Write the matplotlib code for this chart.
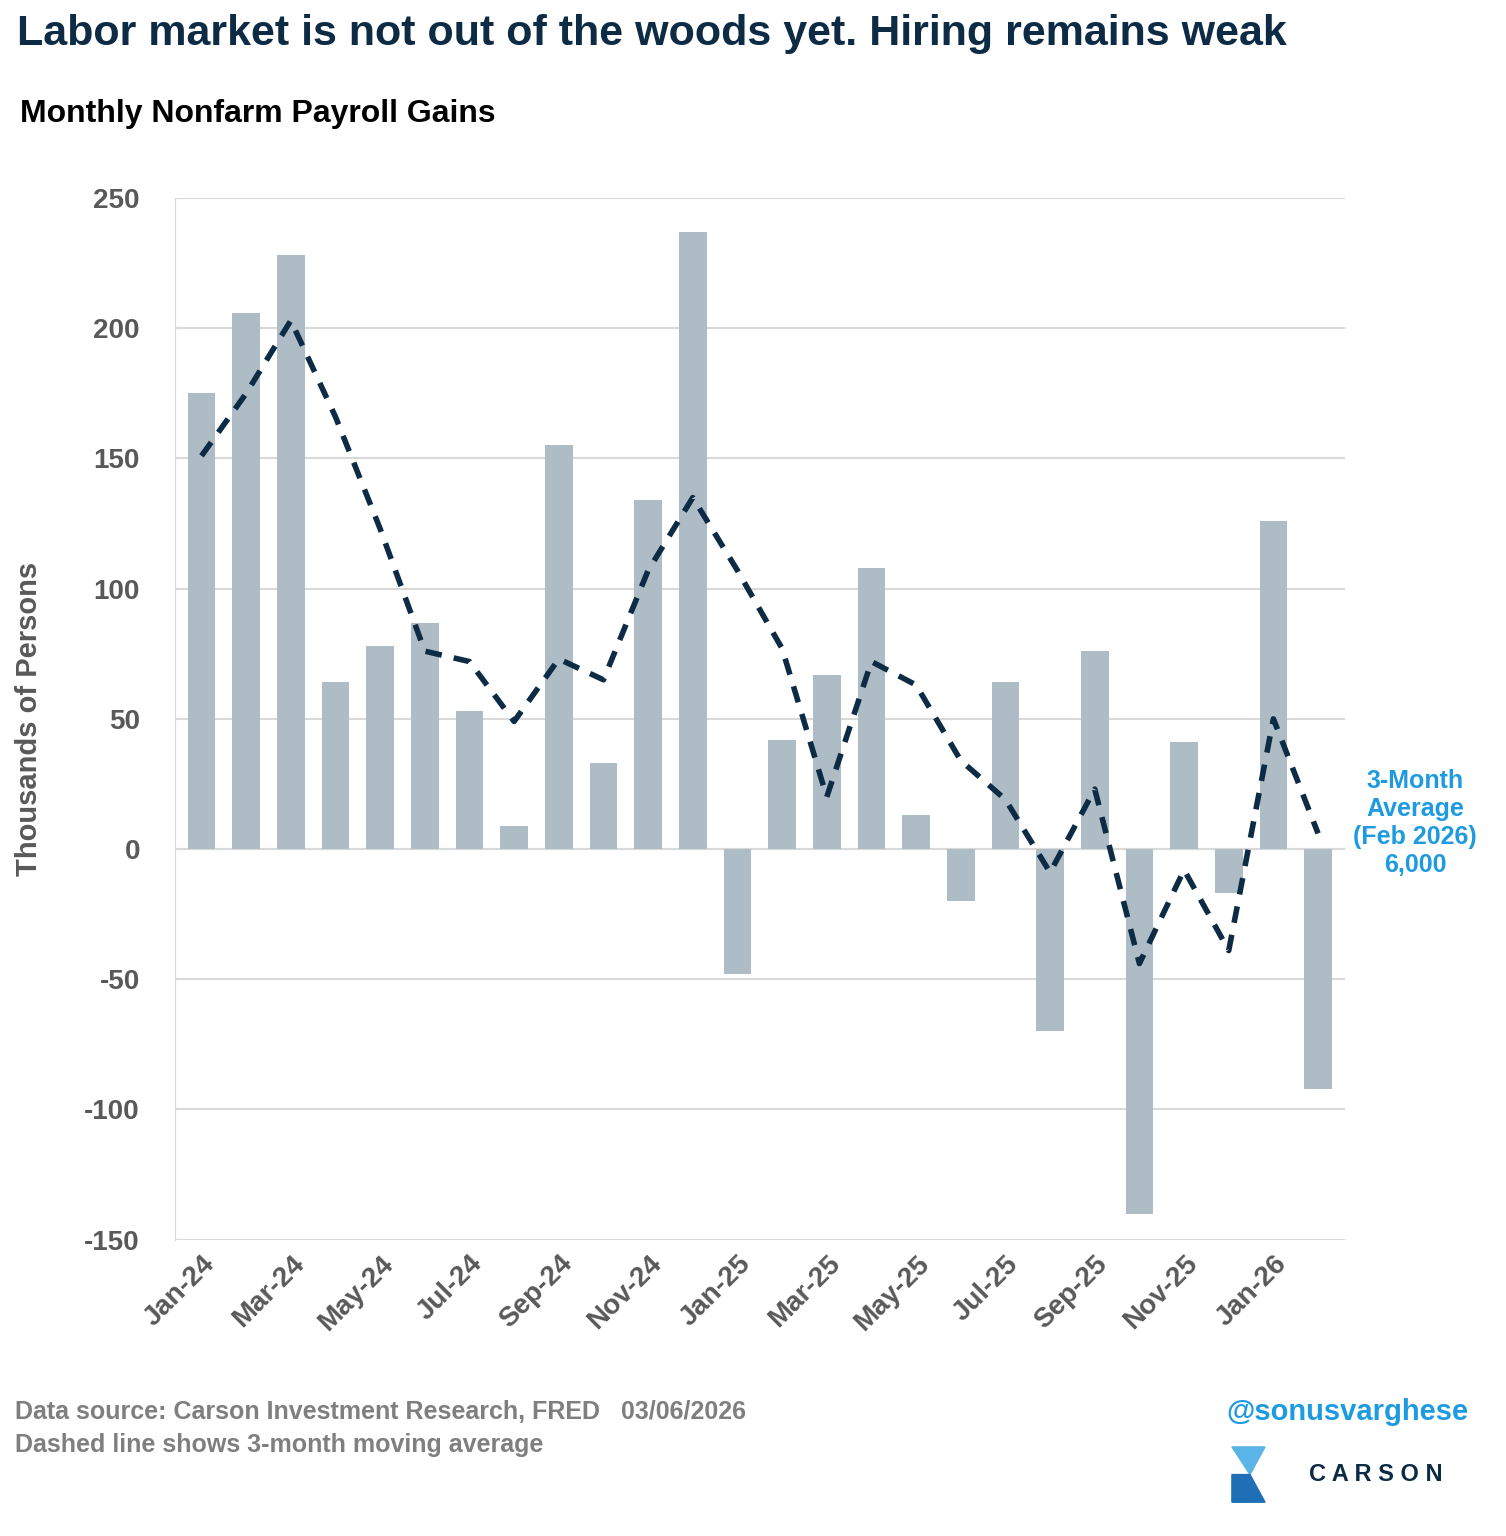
import matplotlib
matplotlib.use("Agg")
import matplotlib.pyplot as plt
from matplotlib.patches import Polygon

plt.rcParams['font.family'] = ['Liberation Sans', 'DejaVu Sans']
plt.rcParams['axes.unicode_minus'] = False

months = ["Jan-24", "Feb-24", "Mar-24", "Apr-24", "May-24", "Jun-24", "Jul-24", "Aug-24",
          "Sep-24", "Oct-24", "Nov-24", "Dec-24", "Jan-25", "Feb-25", "Mar-25", "Apr-25",
          "May-25", "Jun-25", "Jul-25", "Aug-25", "Sep-25", "Oct-25", "Nov-25", "Dec-25",
          "Jan-26", "Feb-26"]
payrolls = [175, 206, 228, 64, 78, 87, 53, 9, 155, 33, 134, 237, -48, 42, 67, 108,
            13, -20, 64, -70, 76, -140, 41, -17, 126, -92]
avg3 = [151, 175, 203, 166, 123, 76, 72, 49, 73, 65, 107, 135, 107, 77, 20, 72,
        63, 34, 19, -9, 23, -44, -8, -39, 50, 6]

navy = "#0D2B45"
fig = plt.figure(figsize=(15.06, 15.36), dpi=100)
ax = fig.add_axes([0.116, 0.193, 0.777, 0.678])

x = range(len(months))
ax.bar(x, payrolls, width=0.62, color="#AEBCC6", zorder=2)
ax.plot(x, avg3, color=navy, lw=4, ls=(0, (3, 2.2)), zorder=3)

ax.set_xlim(-0.6, len(months) - 0.4)
ax.set_ylim(-150, 250)
ax.set_yticks(range(-150, 251, 50))
ax.grid(axis="y", color="#D9D9D9", lw=1.5, zorder=0)
ax.axhline(0, color="#D9D9D9", lw=1.5, zorder=1)
for s in ["top", "bottom", "right"]:
    ax.spines[s].set_visible(False)
ax.spines["left"].set_color("#D9D9D9")
ax.tick_params(length=0, labelsize=20, colors="#595959", pad=25)
for t in ax.get_yticklabels():
    t.set_fontweight("bold")
ax.set_xticks(list(x)[::2])
ax.set_xticklabels(months[::2], rotation=45, ha="right", rotation_mode="anchor",
                   fontsize=20, fontweight="bold", color="#595959")
ax.tick_params(axis="x", pad=8)
ax.set_ylabel("Thousands of Persons", fontsize=21, fontweight="bold", color="#595959", labelpad=30)

ax.text(1.06, 0.40, "3-Month\nAverage\n(Feb 2026)\n6,000", transform=ax.transAxes,
        ha="center", va="center", fontsize=18, fontweight="bold", color="#1E9BE0", linespacing=1.2)

fig.text(0.011, 0.978, "Labor market is not out of the woods yet. Hiring remains weak",
         fontsize=31, fontweight="bold", color=navy, va="center")
fig.text(0.013, 0.926, "Monthly Nonfarm Payroll Gains", fontsize=23, fontweight="bold",
         color="black", va="center")
fig.text(0.01, 0.081, "Data source: Carson Investment Research, FRED   03/06/2026",
         fontsize=18, fontweight="bold", color="#7F7F7F", va="center")
fig.text(0.01, 0.059, "Dashed line shows 3-month moving average",
         fontsize=18, fontweight="bold", color="#7F7F7F", va="center")
fig.text(0.975, 0.081, "@sonusvarghese", fontsize=21, fontweight="bold",
         color="#1E9BE0", ha="right", va="center")
fig.text(0.958, 0.040, "C A R S O N", fontsize=17, fontweight="bold", color=navy,
         ha="right", va="center")
fig.patches.append(Polygon([[0.818, 0.058], [0.840, 0.058], [0.830, 0.040]],
                           closed=True, transform=fig.transFigure, color="#5AB4E5"))
fig.patches.append(Polygon([[0.818, 0.040], [0.830, 0.040], [0.840, 0.022], [0.818, 0.022]],
                           closed=True, transform=fig.transFigure, color="#1E6FB5"))

fig.savefig("out.png", dpi=100)
